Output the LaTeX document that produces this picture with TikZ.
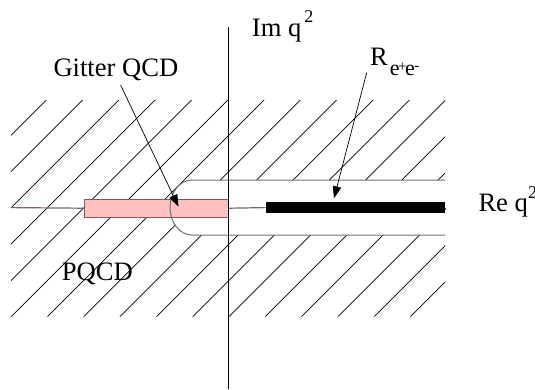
\documentclass[tikz,border=0pt]{standalone}
\usepackage{fontspec}
\setmainfont{Liberation Serif}
\usetikzlibrary{arrows.meta}
\definecolor{pinkfill}{HTML}{FFC0C0}
\definecolor{pinkedge}{HTML}{7A5A5A}
\definecolor{axisgray}{HTML}{7A6868}
\definecolor{contourgray}{HTML}{707070}
\newcommand\bigtxt{\fontsize{26.6}{30}\selectfont}
\newcommand\suptwo{\raisebox{13.5pt}{\fontsize{18}{19}\selectfont 2}}
\tikzset{
  lbl/.style={anchor=base west, inner sep=0pt, font=\bigtxt},
  hatchline/.style={black, line width=0.7pt},
  ptr/.style={black, line width=0.7pt, -{Triangle[length=12pt,width=8.5pt]}},
}
\begin{document}
\begin{tikzpicture}[x=1pt,y=-1pt]
\useasboundingbox (0,0) rectangle (535,389);
% hatching
\begin{scope}[even odd rule]
  \clip (11,100) rectangle (445,316.7)
    (446,180) -- (192,180) arc[start angle=90, end angle=270, x radius=22pt, y radius=27.5pt] -- (446,235) -- cycle;
  \foreach \k in {-1,...,17} {
    \pgfmathsetmacro{\c}{146.3+36.3*\k}
    \draw[hatchline] (\c-420,420) -- (\c,0);
  }
\end{scope}
% real axis pieces
\node[draw=pinkedge, fill=pinkfill, line width=1.2pt, minimum width=144.4pt, minimum height=18pt, inner sep=0pt, anchor=north west] (lat) at (83.6,198.6) {};
\coordinate (axL) at (11,207.6);
\coordinate (axR) at (265.5,207.6);
\node[fill=black, minimum width=179.5pt, minimum height=11.3pt, inner sep=0pt, anchor=west] (cut) at (axR) {};
\draw[axisgray, line width=1.2pt] (axL) -- (lat.west);
\draw[axisgray, line width=1.2pt] (lat.east) -- (cut.west);
% contour
\coordinate (ctop) at (445,180);
\coordinate (cbot) at (445,235);
\draw[contourgray, line width=1pt] (ctop) -- (192,180) arc[start angle=90, end angle=270, x radius=22pt, y radius=27.5pt] -- (cbot);
% imaginary axis
\coordinate (imtop) at (228.3,27.3);
\coordinate (imbot) at (228.3,389);
\draw[black, line width=1pt] (imtop) -- (imbot);
% labels
\node[lbl] (im) at (251.7,36) {Im q\hspace{3pt}\suptwo};
\node[lbl] (re) at (478.3,211.7) {Re q\suptwo};
\node[lbl] (git) at (53.3,76.7) {Gitter QCD};
\node[lbl] (pqcd) at (61.7,280) {PQCD};
\node[lbl] (R) at (370,65) {R\hspace{2pt}\raisebox{-10pt}{\fontsize{22}{23}\selectfont e\kern-1.5pt\raisebox{3.5pt}{\fontsize{15}{16}\selectfont +}\kern-1.5pt e\kern-0.5pt\raisebox{4.5pt}{\fontsize{15}{16}\selectfont -}}};
% arrows
\coordinate (gitA) at (120.6,85);
\coordinate (gitB) at (178.5,206.7);
\coordinate (rA) at (366.7,72.7);
\coordinate (rB) at (334,198.3);
\draw[ptr] (gitA) -- (gitB);
\draw[ptr] (rA) -- (rB);
\end{tikzpicture}
\end{document}
